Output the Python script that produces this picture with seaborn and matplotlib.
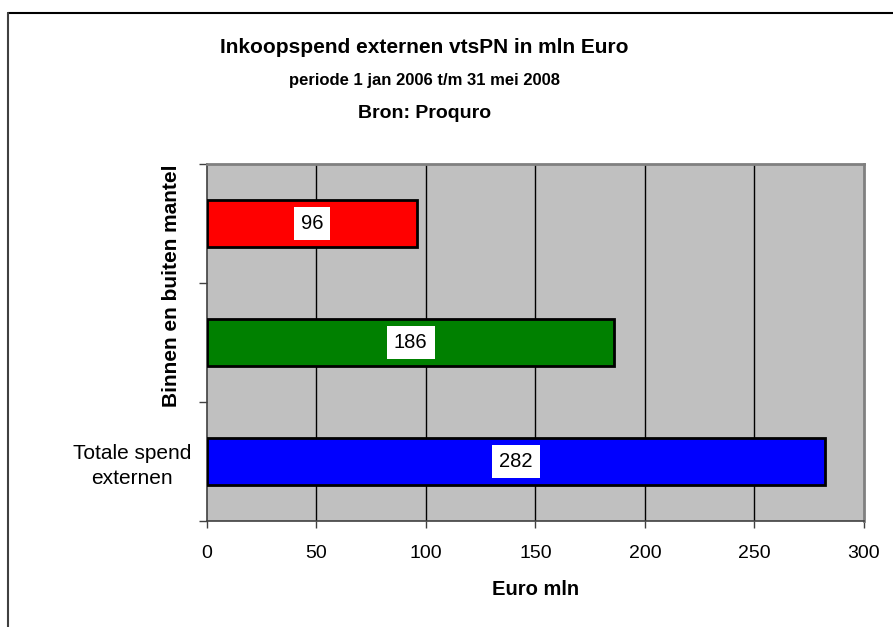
import matplotlib
matplotlib.use('Agg')
import matplotlib.pyplot as plt
import seaborn as sns
import pandas as pd
from matplotlib.lines import Line2D

# data
categorieen = ['mantel_binnen', 'mantel_buiten', 'totaal']
tick_labels = ['', '', 'Totale spend\nexternen']
bedragen = [96, 186, 282]
kleuren = ['#FF0000', '#008000', '#0000FF']
x_ticks = [0, 50, 100, 150, 200, 250, 300]

sns.set_style('white')
plt.rcParams['font.family'] = ['Liberation Sans', 'DejaVu Sans']
plt.rcParams['text.color'] = 'black'
plt.rcParams['xtick.color'] = 'black'
plt.rcParams['ytick.color'] = 'black'
plt.rcParams['axes.labelcolor'] = 'black'

df = pd.DataFrame({'cat': categorieen, 'waarde': bedragen})

fig = plt.figure(figsize=(8.93, 6.27), dpi=100)
ax = fig.add_axes([0.2318, 0.1691, 0.7357, 0.5694])
ax.set_facecolor('#C0C0C0')

sns.barplot(data=df, x='waarde', y='cat', hue='cat', palette=kleuren, legend=False,
            saturation=1, orient='h', width=0.4, edgecolor='black', linewidth=2,
            ax=ax, zorder=3)

ax.set_xlim(0, 300)
ax.set_ylim(2.5, -0.5)
ax.set_xticks(x_ticks)
ax.set_xticklabels([str(t) for t in x_ticks], fontsize=14)
for t in x_ticks[1:-1]:
    ax.axvline(t, color='black', linewidth=1, zorder=1)

# categorie labels zonder streepjes, streepjes op de grenzen
ax.set_yticks([0, 1, 2])
ax.set_yticklabels(tick_labels, fontsize=15, ha='center', linespacing=1.35)
ax.tick_params(axis='y', which='major', length=0, pad=54)
ax.set_yticks([-0.5, 0.5, 1.5, 2.5], minor=True)
ax.tick_params(axis='y', which='minor', length=6, width=1, color='#404040', direction='out', left=True)
ax.tick_params(axis='x', length=5, width=1, color='#404040', direction='out', bottom=True, pad=12)

ax.set_xlabel('Euro mln', fontsize=14.5, fontweight='bold', labelpad=13)
ax.set_ylabel('')

for s in ['left', 'bottom']:
    ax.spines[s].set_color('#404040')
    ax.spines[s].set_linewidth(1.2)
for s in ['top', 'right']:
    ax.spines[s].set_color('#808080')
    ax.spines[s].set_linewidth(2)

# waardelabels in witte vakjes
for i, v in enumerate(bedragen):
    ax.text(v / 2, i, str(v), ha='center', va='center', fontsize=14.5, zorder=5,
            bbox=dict(facecolor='white', edgecolor='none', boxstyle='square,pad=0.35'))

fig.text(0.1915, 0.545, 'Binnen en buiten mantel', rotation=90, ha='center', va='center',
         fontsize=15, fontweight='bold')

fig.text(0.475, 0.925, 'Inkoopspend externen vtsPN in mln Euro', ha='center', va='center',
         fontsize=15, fontweight='bold')
fig.text(0.475, 0.871, 'periode 1 jan 2006 t/m 31 mei 2008', ha='center', va='center',
         fontsize=12, fontweight='bold')
fig.text(0.475, 0.819, 'Bron: Proquro', ha='center', va='center',
         fontsize=14, fontweight='bold')

# kader
fig.add_artist(Line2D([0.009, 1.0], [0.979, 0.979], color='black', linewidth=1.5, transform=fig.transFigure))
fig.add_artist(Line2D([0.009, 0.009], [0.0, 0.979], color='#404040', linewidth=1.5, transform=fig.transFigure))

fig.savefig('out.png', dpi=100)
